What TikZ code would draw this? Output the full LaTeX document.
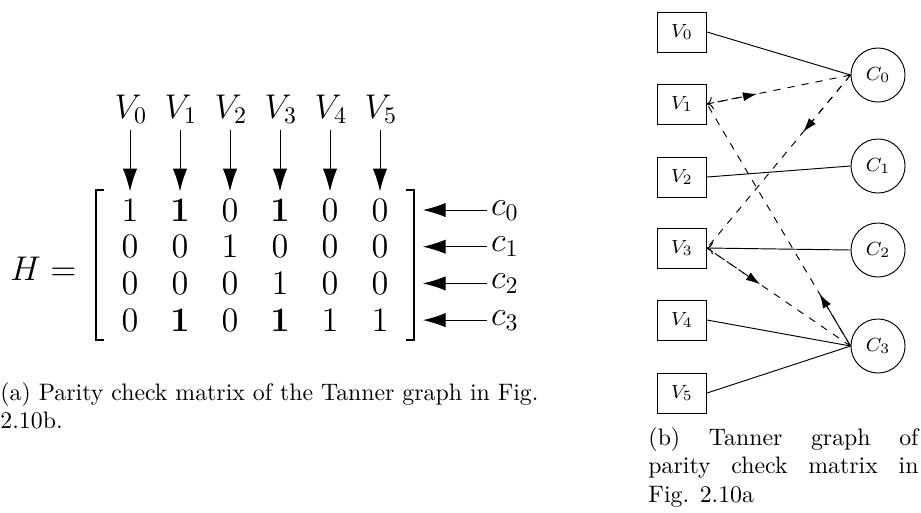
\documentclass[tikz,border=0pt]{standalone}
\usetikzlibrary{arrows.meta,fit,calc}

\tikzset{
  entry/.style={inner sep=3pt, font=\Large},
  vnode/.style={draw, rectangle, minimum width=20.6pt, minimum height=16.8pt, inner sep=0pt, font=\footnotesize},
  cnode/.style={draw, circle, minimum size=22.7pt, inner sep=0pt, font=\footnotesize},
  bigarrow/.style={-{Latex[length=9.5pt,width=6pt]}},
  msg/.style={-{Latex[length=6pt,width=3.8pt]}},
  bracket/.style={line width=0.8pt},
}

\begin{document}
\begin{tikzpicture}[x=0.42pt, y=-0.42pt]

\useasboundingbox (0,0) rectangle (921,512);

% Parameters
\def\colsep{50}
\def\rowsep{36.7}

% --- Parity check matrix ---
\foreach \r/\entries in {0/{1,\mathbf{1},0,\mathbf{1},0,0},
                         1/{0,0,1,0,0,0},
                         2/{0,0,0,1,0,0},
                         3/{0,\mathbf{1},0,\mathbf{1},1,1}}{
  \foreach \e [count=\c from 0] in \entries
    \node[entry] (m-\r-\c) at ({130+\colsep*\c},{210+\rowsep*\r}) {$\e$};
}

% Brackets
\node[fit=(m-0-0)(m-3-5), inner xsep=7.3pt, inner ysep=0.5pt] (mat) {};
\draw[bracket] ([xshift=3.4pt]mat.north west) -| (mat.south west) -- ([xshift=3.4pt]mat.south west);
\draw[bracket] ([xshift=-3.4pt]mat.north east) -| (mat.south east) -- ([xshift=-3.4pt]mat.south east);

\node[font=\Large, anchor=base east, inner sep=0pt] (H) at (77,280) {$H =$};

% Column labels (variable nodes)
\foreach \c in {0,...,5}{
  \node[font=\Large, anchor=base, inner sep=2.5pt] (col\c) at ({131+\colsep*\c},118) {$V_{\c}$};
  \draw[bigarrow] (col\c.south -| m-0-\c) -- (m-0-\c);
}

% Row labels (check nodes)
\foreach \r in {0,...,3}{
  \node[font=\Large, anchor=mid west, inner sep=1.5pt] (row\r) at (487,{210+\rowsep*\r}) {$c_{\r}$};
  \draw[bigarrow, shorten >=3.8pt] (row\r.mid west) -- (row\r.mid west -| mat.east);
}

% --- Tanner graph ---
\foreach \i/\y in {0/32,1/104,2/177,3/248,4/320,5/393}
  \node[vnode] (V\i) at (682,\y) {$V_{\i}$};
\foreach \i/\y in {0/75,1/166,2/250,3/346}
  \node[cnode] (C\i) at (878,\y) {$C_{\i}$};

% Edges
\draw (V0.east) -- (C0.west);
\draw[dashed, ->] (C0.west) -- (V1.east);
\draw[dashed] (C0.west) -- (V3.east);
\draw (C1.west) -- (V2.east);
\draw[->] (C2.west) -- (V3.east);
\draw[dashed] (C3.west) -- (V1.east);
\draw[dashed] (C3.west) -- (V3.east);
\draw (C3.west) -- (V4.east);
\draw (C3.west) -- (V5.east);

% Messages
\draw[msg, dashed] (V1.east) -- ($(V1.east)!0.35!(C0.west)$);
\draw[msg, dashed] (C0.west) -- ($(C0.west)!0.33!(V3.east)$);
\draw[msg] (C3.west) -- ($(C3.west)!0.215!(V1.east)$);
\draw[msg, dashed] (V3.east) -- ($(V3.east)!0.37!(C3.west)$);

% --- Captions ---
\node[anchor=north west, inner sep=0pt, align=left] (capA) at (0,382)
  {(a) Parity check matrix of the Tanner graph in Fig.\\ 2.10b.};
\node[anchor=north west, inner sep=0pt, text width=113.4pt, align=justify] (capB) at (648,427)
  {(b) Tanner graph of\linebreak parity check matrix in\linebreak Fig. 2.10a};

\end{tikzpicture}
\end{document}
